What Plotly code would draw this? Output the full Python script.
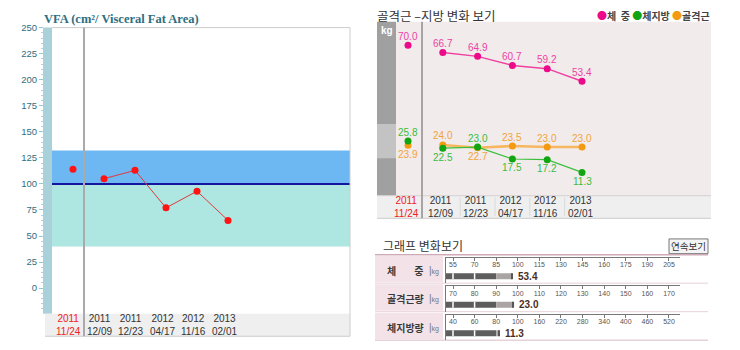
import numpy as np
import plotly.graph_objects as go

W, H = 740, 350


def fx(px):
    return px / W


def fy(py):
    return 1 - py / H


SANS = "Liberation Sans, Arial, sans-serif"
KR = "Noto Sans CJK KR, sans-serif"

# ---------------- VFA chart ----------------
vfa_dates = ["2011<br>11/24", "2011<br>12/09", "2011<br>12/23",
             "2012<br>04/17", "2012<br>11/16", "2013<br>02/01"]
vfa_values = [114, 105, 113, 77, 93, 65]
vfa_band_low, vfa_band_mid, vfa_band_high = 40, 100, 132
vfa_ticks = list(range(0, 251, 25))

# ---------------- body composition chart ----------------
bc_dates = vfa_dates
weight = [70.0, 66.7, 64.9, 60.7, 59.2, 53.4]
fat = [25.8, 22.5, 23.0, 17.5, 17.2, 11.3]
muscle = [23.9, 24.0, 22.7, 23.5, 23.0, 23.0]
weight_label_side = [1, 1, 1, 1, 1, 1]
fat_label_side = [1, -1, 1, -1, -1, -1]
muscle_label_side = [-1, 1, -1, 1, 1, 1]
normal_zone = (17.8, 33.7)

# ---------------- change table ----------------
row_names = ["체" + "&nbsp;" * 8 + "중", "골격근량", "체지방량"]
row_scales = [
    [55, 70, 85, 100, 115, 130, 145, 160, 175, 190, 205],
    [70, 80, 90, 100, 110, 120, 130, 140, 150, 160, 170],
    [40, 60, 80, 100, 160, 220, 280, 340, 400, 460, 520],
]
row_values = [53.4, 23.0, 11.3]
row_standard = [55.6, 23.5, 13.7]

fig = go.Figure()
shapes = []
annotations = []


def note(text, x, y, xref="paper", yref="paper", xanchor="center", yanchor="middle", **kw):
    annotations.append(dict(text=text, x=x, y=y, xref=xref, yref=yref, xanchor=xanchor,
                            yanchor=yanchor, showarrow=False, **kw))


# ============ VFA chart ============
C_RED = "#ff1414"
fig.add_trace(go.Scatter(x=[0], y=[vfa_values[0]], mode="markers",
                         marker=dict(color=C_RED, size=7), xaxis="x", yaxis="y",
                         hoverinfo="skip"))
fig.add_trace(go.Scatter(x=list(range(1, len(vfa_values))), y=vfa_values[1:],
                         mode="lines+markers", line=dict(color="#e03a3a", width=1),
                         marker=dict(color=C_RED, size=7), xaxis="x", yaxis="y",
                         hoverinfo="skip"))

# teal scale bar
shapes.append(dict(type="rect", xref="paper", yref="paper", x0=fx(43), x1=fx(52),
                   y0=fy(313), y1=fy(22), fillcolor="#a9d1d9", line_width=0, layer="below"))
# reference bands
shapes.append(dict(type="rect", xref="paper", yref="y", x0=fx(52), x1=fx(350),
                   y0=vfa_band_mid, y1=vfa_band_high, fillcolor="#6db7f3", line_width=0, layer="below"))
shapes.append(dict(type="rect", xref="paper", yref="y", x0=fx(52), x1=fx(350),
                   y0=vfa_band_low, y1=vfa_band_mid, fillcolor="#aee6e2", line_width=0, layer="below"))
shapes.append(dict(type="line", xref="paper", yref="y", x0=fx(52), x1=fx(350),
                   y0=vfa_band_mid, y1=vfa_band_mid, line=dict(color="#1515a0", width=2), layer="below"))
# frame and date strip
shapes.append(dict(type="rect", xref="paper", yref="paper", x0=fx(45), x1=fx(350),
                   y0=fy(336), y1=fy(313), fillcolor="#efefef", line_width=0, layer="below"))
shapes.append(dict(type="line", xref="paper", yref="paper", x0=fx(45), x1=fx(350),
                   y0=fy(336), y1=fy(336), line=dict(color="#cccccc", width=1), layer="below"))
shapes.append(dict(type="line", xref="paper", yref="paper", x0=fx(52), x1=fx(350),
                   y0=fy(22), y1=fy(22), line=dict(color="#cccccc", width=1), layer="below"))
shapes.append(dict(type="line", xref="paper", yref="paper", x0=fx(350), x1=fx(350),
                   y0=fy(336), y1=fy(22), line=dict(color="#cccccc", width=1), layer="below"))
shapes.append(dict(type="line", xref="paper", yref="paper", x0=fx(84), x1=fx(84),
                   y0=fy(336), y1=fy(22), line=dict(color="#aaaaaa", width=2), layer="below"))

note("<b>VFA (cm²/ Visceral Fat Area)</b>", fx(42), fy(13), xanchor="left",
     font=dict(family="Liberation Serif, serif", size=12.5, color="#2e6e80"))
for i, d in enumerate(vfa_dates):
    note(d, i, fy(325), xref="x", xshift=-4,
         font=dict(family=SANS, size=10, color="#ee2222" if i == 0 else "#333333"))

# ============ body composition chart ============
C_W, C_WL, C_WT = "#ea0a8a", "#f040a0", "#ee3fa4"
C_F, C_FL, C_FT = "#12a512", "#3cbf3c", "#3dbb3d"
C_M, C_ML, C_MT = "#f39a12", "#f6b760", "#f0a43a"

for vals, mc, lc, lw in [(muscle, C_M, C_ML, 2.5), (fat, C_F, C_FL, 1.2), (weight, C_W, C_WL, 1.4)]:
    fig.add_trace(go.Scatter(x=[0], y=[vals[0]], mode="markers",
                             marker=dict(color=mc, size=7), xaxis="x2", yaxis="y2",
                             hoverinfo="skip"))
    fig.add_trace(go.Scatter(x=list(range(1, len(vals))), y=vals[1:], mode="lines+markers",
                             line=dict(color=lc, width=lw), marker=dict(color=mc, size=7),
                             xaxis="x2", yaxis="y2", hoverinfo="skip"))

for vals, sides, tc in [(weight, weight_label_side, C_WT), (fat, fat_label_side, C_FT),
                        (muscle, muscle_label_side, C_MT)]:
    for i, (v, s) in enumerate(zip(vals, sides)):
        note(f"{v:.1f}", i, v, xref="x2", yref="y2", yshift=9 * s,
             font=dict(family=SANS, size=10, color=tc))

# plot background and side scale
shapes.append(dict(type="rect", xref="paper", yref="paper", x0=fx(396), x1=fx(711),
                   y0=fy(193), y1=fy(16), fillcolor="#f1ebeb", line_width=0, layer="below"))
shapes.append(dict(type="rect", xref="paper", yref="paper", x0=fx(377), x1=fx(396),
                   y0=fy(193), y1=fy(16), fillcolor="#a0a0a0", line_width=0, layer="below"))
shapes.append(dict(type="rect", xref="paper", yref="y2", x0=fx(377), x1=fx(396),
                   y0=normal_zone[0], y1=normal_zone[1], fillcolor="#c3c3c3", line_width=0, layer="below"))
shapes.append(dict(type="rect", xref="paper", yref="paper", x0=fx(377), x1=fx(711),
                   y0=fy(216), y1=fy(193), fillcolor="#efefef", line_width=0, layer="below"))
shapes.append(dict(type="line", xref="paper", yref="paper", x0=fx(377), x1=fx(711),
                   y0=fy(193), y1=fy(193), line=dict(color="#d6d0d0", width=1), layer="below"))
shapes.append(dict(type="line", xref="paper", yref="paper", x0=fx(377), x1=fx(711),
                   y0=fy(216), y1=fy(216), line=dict(color="#cccccc", width=1), layer="below"))
for k in range(1, 5):
    shapes.append(dict(type="line", xref="x2", yref="paper", x0=k + 0.5, x1=k + 0.5,
                       y0=fy(214), y1=fy(195), line=dict(color="#dadada", width=1), layer="below"))
shapes.append(dict(type="line", xref="paper", yref="paper", x0=fx(422), x1=fx(422),
                   y0=fy(216), y1=fy(16), line=dict(color="#aaa3a3", width=2), layer="below"))

note("<b>kg</b>", fx(386.5), fy(25), font=dict(family=SANS, size=10, color="white"))
note("골격근 –지방 변화 보기", fx(375), fy(9.5), xanchor="left",
     font=dict(family=KR, size=12.5, color="#333333"))
note((f"<span style='color:{C_W}'>●</span><b>체&nbsp;&nbsp;중</b> "
      f"<span style='color:{C_F}'>●</span><b>체지방</b> "
      f"<span style='color:{C_M}'>●</span><b>골격근</b>"),
     fx(712), fy(10), xanchor="right", font=dict(family=KR, size=10, color="#444444"))
for i, d in enumerate(bc_dates):
    note(d, i, fy(204.5), xref="x2", xshift=-2,
         font=dict(family=SANS, size=10, color="#ee2222" if i == 0 else "#333333"))

# ============ change table ============
note("그래프 변화보기", fx(381), fy(243.5), xanchor="left",
     font=dict(family=KR, size=12, color="#333333"))
shapes.append(dict(type="rect", xref="paper", yref="paper", x0=fx(669), x1=fx(708),
                   y0=fy(252), y1=fy(237), fillcolor="#f4f4f4",
                   line=dict(color="#777777", width=1), layer="below"))
note("연속보기", fx(688.5), fy(244.5), font=dict(family=KR, size=9.5, color="#333333"))

row_tops = [253, 282, 311]
row_h = 29
shapes.append(dict(type="line", xref="paper", yref="paper", x0=fx(375), x1=fx(708),
                   y0=fy(253), y1=fy(253), line=dict(color="#cfa9b7", width=1.5), layer="below"))
axis_x0 = -0.324
bar_y, bar_w = 0.27, 0.23
layout_axes = {}
for r in range(3):
    top = row_tops[r]
    bottom = top + row_h
    shapes.append(dict(type="rect", xref="paper", yref="paper", x0=fx(375), x1=fx(443),
                       y0=fy(bottom - 1), y1=fy(top + 1), fillcolor="#f3e3e9", line_width=0,
                       layer="below"))
    shapes.append(dict(type="line", xref="paper", yref="paper", x0=fx(375), x1=fx(708),
                       y0=fy(bottom), y1=fy(bottom),
                       line=dict(color="#d9bcc7" if r == 2 else "#e6d2d9", width=1), layer="below"))
    cy = top + 16
    note(f"<b>{row_names[r]}</b>", fx(385), fy(cy), xanchor="left",
         font=dict(family=KR, size=10, color="#3a3a3a"))
    note("|<span style='font-size:7px'>kg</span>", fx(427), fy(cy), xanchor="left",
         font=dict(family=SANS, size=10, color="#777777"))

    ax = str(r + 3)
    xa, ya = "x" + ax, "y" + ax
    scale = row_scales[r]
    pct = row_values[r] / row_standard[r] * 100
    end = float(np.interp(pct, scale, np.arange(len(scale))))
    dark_end = min(end, 2.0)
    fig.add_trace(go.Bar(orientation="h", y=[bar_y], x=[dark_end - axis_x0], base=[axis_x0],
                         width=bar_w, marker=dict(color="#5d5d5d", line_width=0),
                         xaxis=xa, yaxis=ya, hoverinfo="skip"))
    if end > 2.0:
        fig.add_trace(go.Bar(orientation="h", y=[bar_y], x=[end - 2.0], base=[2.0],
                             width=bar_w, marker=dict(color="#aaa4a4", line_width=0),
                             xaxis=xa, yaxis=ya, hoverinfo="skip"))
    fig.add_trace(go.Bar(orientation="h", y=[bar_y], x=[0.08], base=[end - 0.04],
                         width=bar_w, marker=dict(color="#555555", line_width=0),
                         xaxis=xa, yaxis=ya, hoverinfo="skip"))
    for t in (0, 1):
        shapes.append(dict(type="line", xref=xa, yref=ya, x0=t, x1=t,
                           y0=bar_y - bar_w / 2, y1=bar_y + bar_w / 2,
                           line=dict(color="white", width=1.5)))
    note(f"<b>{row_values[r]:.1f}</b>", end, bar_y, xref=xa, yref=ya, xanchor="left", xshift=4,
         font=dict(family=SANS, size=10, color="#4a2e1e"))

    layout_axes["xaxis" + ax] = dict(
        domain=[fx(446), fx(680)], range=[axis_x0, 10.51], anchor=ya, side="top",
        showline=True, linecolor="#777777", linewidth=1, ticks="inside", ticklen=3,
        tickcolor="#777777", tickvals=list(range(len(scale))),
        ticktext=[str(v) for v in scale], ticklabelposition="inside",
        tickfont=dict(family=SANS, size=7, color="#555555"),
        showgrid=False, zeroline=False, fixedrange=True)
    layout_axes["yaxis" + ax] = dict(
        domain=[fy(bottom), fy(top + 3)], range=[0, 1], anchor=xa, showline=True,
        linecolor="#777777", linewidth=1, showticklabels=False, ticks="",
        showgrid=False, zeroline=False, fixedrange=True)

fig.update_layout(
    width=W, height=H, margin=dict(l=0, r=0, t=0, b=0),
    paper_bgcolor="white", plot_bgcolor="rgba(0,0,0,0)",
    showlegend=False, barmode="overlay",
    xaxis=dict(domain=[fx(52), fx(350)], range=[-0.677, 8.935], visible=False,
               anchor="y", fixedrange=True),
    yaxis=dict(domain=[fy(313), fy(22)], range=[-24.5, 250], anchor="free",
               position=fx(43), tickvals=vfa_ticks, ticks="outside", ticklen=4,
               tickcolor="#9cc5ce", showline=False, showgrid=False, zeroline=False,
               tickfont=dict(family=SANS, size=9.5, color="#2f6e7e"),
               minor=dict(dtick=5, ticks="outside", ticklen=2, tickcolor="#b3d3da"),
               fixedrange=True),
    xaxis2=dict(domain=[fx(396), fx(711)], range=[-0.345, 8.707], visible=False,
                anchor="y2", fixedrange=True),
    yaxis2=dict(domain=[fy(193), fy(16)], range=[0.55, 80.9], visible=False,
                anchor="x2", fixedrange=True),
    shapes=shapes, annotations=annotations,
    **layout_axes,
)

fig.write_html("out.html")
